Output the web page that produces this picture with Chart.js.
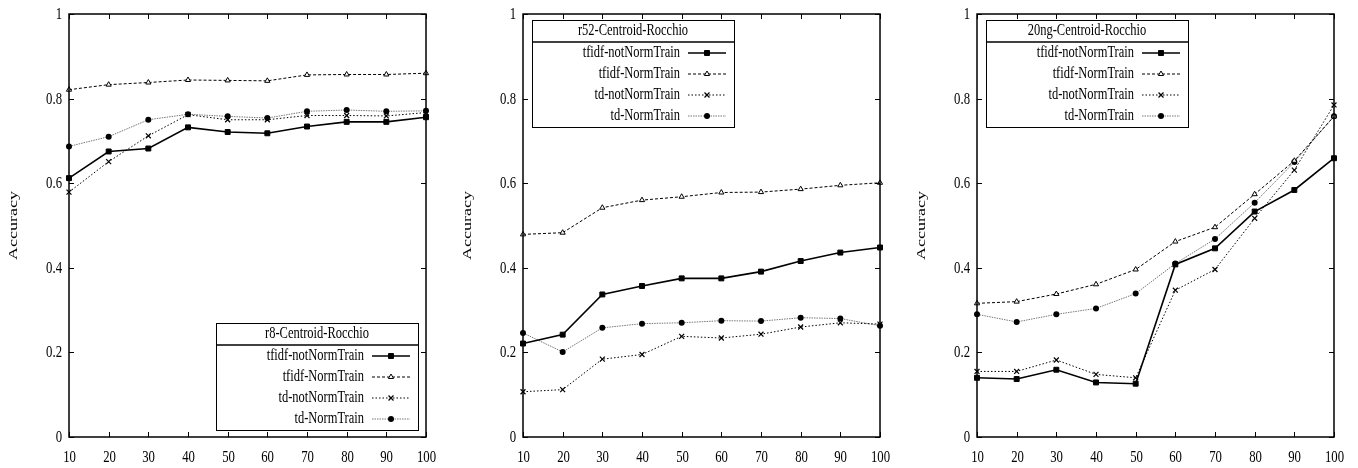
<!DOCTYPE html>
<html>
<head>
<meta charset="utf-8">
<script src="https://cdn.jsdelivr.net/npm/chart.js@4.4.1/dist/chart.umd.min.js"></script>
<style>
  body { margin: 0; background: #fff; width: 1358px; height: 468px; overflow: hidden; position: relative; }
  canvas { position: absolute; top: 0; }
</style>
</head>
<body>
<canvas id="r8" width="450" height="468" style="left:0px"></canvas>
<canvas id="r52" width="450" height="468" style="left:454px"></canvas>
<canvas id="ng20" width="450" height="468" style="left:908px"></canvas>
<script>
// Percent of training data used (x axis).
const percents = ['10', '20', '30', '40', '50', '60', '70', '80', '90', '100'];
const seriesNames = ['tfidf-notNormTrain', 'tfidf-NormTrain', 'td-notNormTrain', 'td-NormTrain'];

// r8
const r8TfidfNotNorm = [0.612, 0.675, 0.682, 0.732, 0.721, 0.718, 0.734, 0.745, 0.745, 0.756];
const r8TfidfNorm    = [0.821, 0.833, 0.838, 0.844, 0.843, 0.842, 0.856, 0.857, 0.857, 0.860];
const r8TdNotNorm    = [0.579, 0.651, 0.712, 0.762, 0.750, 0.750, 0.760, 0.760, 0.759, 0.767];
const r8TdNorm       = [0.687, 0.710, 0.750, 0.763, 0.758, 0.754, 0.770, 0.773, 0.770, 0.771];

// r52
const r52TfidfNotNorm = [0.221, 0.242, 0.337, 0.357, 0.375, 0.375, 0.391, 0.416, 0.436, 0.448];
const r52TfidfNorm    = [0.479, 0.483, 0.542, 0.560, 0.568, 0.578, 0.579, 0.586, 0.595, 0.601];
const r52TdNotNorm    = [0.107, 0.112, 0.184, 0.195, 0.238, 0.234, 0.243, 0.260, 0.270, 0.267];
const r52TdNorm       = [0.246, 0.201, 0.258, 0.268, 0.270, 0.275, 0.274, 0.282, 0.280, 0.263];

// 20ng
const ngTfidfNotNorm = [0.140, 0.137, 0.159, 0.129, 0.126, 0.408, 0.446, 0.533, 0.584, 0.659];
const ngTfidfNorm    = [0.316, 0.320, 0.338, 0.361, 0.396, 0.462, 0.496, 0.574, 0.653, 0.758];
const ngTdNotNorm    = [0.155, 0.155, 0.182, 0.148, 0.140, 0.347, 0.396, 0.517, 0.631, 0.785];
const ngTdNorm       = [0.290, 0.272, 0.290, 0.304, 0.339, 0.410, 0.468, 0.554, 0.650, 0.758];

const yTicks = [0, 0.2, 0.4, 0.6, 0.8, 1];

const SERIF = '"Liberation Serif", "DejaVu Serif", serif';

// Look of each series, gnuplot style.
const styles = [
  { borderColor: '#000', borderWidth: 1.6, borderDash: [], pointStyle: 'rect', pointRadius: 3.5, pointBackgroundColor: '#000', pointBorderColor: '#000', pointBorderWidth: 1 },
  { borderColor: '#000', borderWidth: 1, borderDash: [3, 2], pointStyle: 'triangle', pointRadius: 3, pointBackgroundColor: '#fff', pointBorderColor: '#000', pointBorderWidth: 1 },
  { borderColor: '#000', borderWidth: 1, borderDash: [1.5, 2], pointStyle: 'crossRot', pointRadius: 3.5, pointBackgroundColor: '#000', pointBorderColor: '#000', pointBorderWidth: 1.2 },
  { borderColor: '#777', borderWidth: 1, borderDash: [1.5, 1], pointStyle: 'circle', pointRadius: 3, pointBackgroundColor: '#000', pointBorderColor: '#000', pointBorderWidth: 0 }
];

// The reference text is tall and narrow, so squeeze it sideways.
function narrowText(ctx, text, x, y, align, size, squeeze) {
  ctx.save();
  ctx.font = size + 'px ' + SERIF;
  ctx.textBaseline = 'middle';
  ctx.textAlign = align;
  ctx.translate(x, y);
  ctx.scale(squeeze, 1);
  ctx.fillText(text, 0, 0);
  ctx.restore();
}

// Frame, inward ticks on all four sides, tick labels and axis title.
const frameTicks = {
  id: 'frameTicks',
  afterDatasetsDraw(chart) {
    const { ctx, chartArea: a, scales } = chart;
    ctx.save();
    ctx.strokeStyle = '#000';
    ctx.fillStyle = '#000';
    ctx.lineWidth = 1;
    ctx.beginPath();
    yTicks.forEach(v => {
      const y = Math.round(scales.y.getPixelForValue(v)) + 0.5;
      ctx.moveTo(a.left, y); ctx.lineTo(a.left + 5, y);
      ctx.moveTo(a.right, y); ctx.lineTo(a.right - 5, y);
      narrowText(ctx, String(v), a.left - 7, y, 'right', 17, 0.75);
    });
    percents.forEach((p, i) => {
      const x = Math.round(scales.x.getPixelForValue(i)) + 0.5;
      ctx.moveTo(x, a.top); ctx.lineTo(x, a.top + 5);
      ctx.moveTo(x, a.bottom); ctx.lineTo(x, a.bottom - 5);
      narrowText(ctx, p, x, a.bottom + 21, 'center', 17, 0.75);
    });
    ctx.stroke();
    ctx.lineWidth = 1.5;
    ctx.strokeRect(a.left, a.top, a.right - a.left, a.bottom - a.top);

    // "Accuracy", rotated; its thickness is squeezed, not its length.
    ctx.save();
    ctx.translate(a.left - 56, (a.top + a.bottom) / 2);
    ctx.rotate(-Math.PI / 2);
    ctx.scale(1, 0.75);
    ctx.font = '18px ' + SERIF;
    ctx.textAlign = 'center';
    ctx.textBaseline = 'middle';
    ctx.fillText('Accuracy', 0, 0);
    ctx.restore();
    ctx.restore();
  }
};

// Boxed legend with a title row, like gnuplot's.
const boxLegend = {
  id: 'boxLegend',
  afterDraw(chart, args, opts) {
    const { ctx, chartArea: a } = chart;
    const w = 202, h = 107;
    const x0 = opts.corner === 'bottomRight' ? a.right - 8 - w : a.left + 9;
    const y0 = opts.corner === 'bottomRight' ? a.bottom - 7 - h : a.top + 6;
    ctx.save();
    ctx.fillStyle = '#fff';
    ctx.fillRect(x0, y0, w, h);
    ctx.strokeStyle = '#000';
    ctx.lineWidth = 1;
    ctx.strokeRect(x0 + 0.5, y0 + 0.5, w, h);
    ctx.lineWidth = 1.5;
    ctx.beginPath();
    ctx.moveTo(x0, y0 + 22); ctx.lineTo(x0 + w, y0 + 22);
    ctx.stroke();

    ctx.fillStyle = '#000';
    narrowText(ctx, opts.title, x0 + w / 2, y0 + 11, 'center', 16, 0.78);

    chart.data.datasets.forEach((ds, i) => {
      const y = y0 + 33 + i * 21;
      ctx.fillStyle = '#000';
      narrowText(ctx, ds.label, x0 + 148, y, 'right', 16, 0.78);
      ctx.save();
      ctx.strokeStyle = ds.borderColor;
      ctx.lineWidth = ds.borderWidth;
      ctx.setLineDash(ds.borderDash);
      ctx.beginPath();
      ctx.moveTo(x0 + 156, y); ctx.lineTo(x0 + 194, y);
      ctx.stroke();
      ctx.setLineDash([]);
      ctx.fillStyle = ds.pointBackgroundColor;
      ctx.strokeStyle = ds.pointBorderColor;
      ctx.lineWidth = ds.pointBorderWidth;
      Chart.helpers.drawPoint(ctx, { pointStyle: ds.pointStyle, radius: ds.pointRadius, rotation: 0, borderWidth: ds.pointBorderWidth }, x0 + 175, y);
      ctx.restore();
    });
    ctx.restore();
  }
};

function makePanel(id, title, corner, values) {
  const datasets = values.map((data, i) => Object.assign({
    label: seriesNames[i],
    data: data,
    fill: false,
    tension: 0,
    clip: false
  }, styles[i]));

  return new Chart(document.getElementById(id), {
    type: 'line',
    data: { labels: percents, datasets: datasets },
    options: {
      responsive: false,
      animation: false,
      layout: { padding: { top: 14, right: 24, left: 0, bottom: 0 } },
      plugins: {
        legend: { display: false },
        tooltip: { enabled: false },
        boxLegend: { title: title, corner: corner }
      },
      scales: {
        x: {
          type: 'category',
          offset: false,
          grid: { display: false, drawTicks: false },
          border: { display: false },
          ticks: { display: false },
          afterFit(s) { s.height = 31; }
        },
        y: {
          min: 0,
          max: 1,
          grid: { display: false, drawTicks: false },
          border: { display: false },
          ticks: { display: false },
          afterFit(s) { s.width = 69; }
        }
      }
    },
    plugins: [frameTicks, boxLegend]
  });
}

makePanel('r8', 'r8-Centroid-Rocchio', 'bottomRight', [r8TfidfNotNorm, r8TfidfNorm, r8TdNotNorm, r8TdNorm]);
makePanel('r52', 'r52-Centroid-Rocchio', 'topLeft', [r52TfidfNotNorm, r52TfidfNorm, r52TdNotNorm, r52TdNorm]);
makePanel('ng20', '20ng-Centroid-Rocchio', 'topLeft', [ngTfidfNotNorm, ngTfidfNorm, ngTdNotNorm, ngTdNorm]);
</script>
</body>
</html>
